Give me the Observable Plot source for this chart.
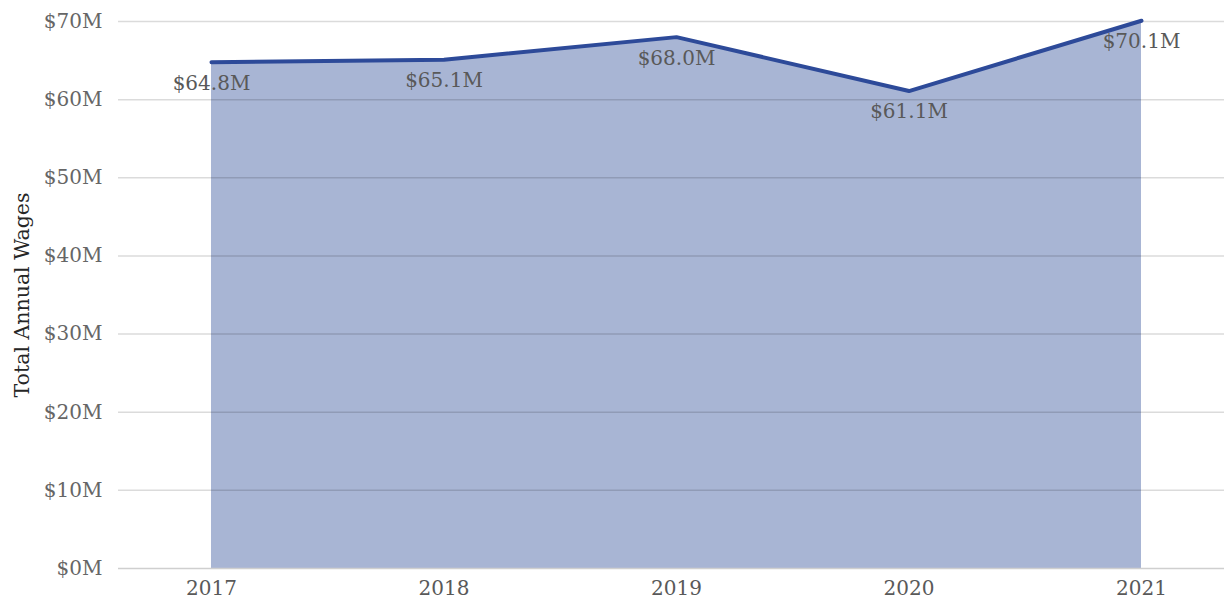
<!DOCTYPE html>
<html>
<head>
<meta charset="utf-8">
<script src="https://cdn.jsdelivr.net/npm/d3@7"></script>
<script src="https://cdn.jsdelivr.net/npm/@observablehq/plot@0.6"></script>
<style>
  html, body { margin: 0; padding: 0; background: #fff; }
  #chart svg { display: block; }
</style>
</head>
<body>
<div id="chart"></div>
<script>
const years = [2017, 2018, 2019, 2020, 2021];
const wages = [64.8, 65.1, 68.0, 61.1, 70.1]; // $ millions
const yTicks = [0, 10, 20, 30, 40, 50, 60, 70];
const yTitle = "Total Annual Wages";

const data = years.map((y, i) => ({year: y, value: wages[i], label: `$${wages[i].toFixed(1)}M`}));

const font = "'DejaVu Serif', 'Liberation Serif', serif";

const chart = Plot.plot({
  width: 1224,
  height: 603,
  marginLeft: 118,
  marginRight: 0,
  marginTop: 21,
  marginBottom: 35,
  style: {fontFamily: font, background: "#fff"},
  x: {domain: [2016.6, 2021.357]},
  y: {domain: [0, 70]},
  marks: [
    Plot.areaY(data, {x: "year", y: "value", fill: "#a8b5d4"}),
    Plot.gridY(yTicks.filter(d => d > 0), {stroke: "#000", strokeOpacity: 0.14, strokeWidth: 1.5}),
    Plot.ruleY([0], {stroke: "#cfcfcf", strokeWidth: 1.5}),
    Plot.lineY(data, {x: "year", y: "value", stroke: "#2d4a99", strokeWidth: 4}),
    Plot.text(data, {x: "year", y: "value", text: "label", dy: 21, fontSize: 20, fill: "#595959"}),
    Plot.axisY({ticks: yTicks, tickFormat: d => `$${d}M`, tickSize: 0, tickPadding: 16, fontSize: 20, fill: "#666", label: null}),
    Plot.axisX({ticks: years, tickFormat: d => String(d), tickSize: 0, tickPadding: 12, fontSize: 20, fill: "#595959", label: null}),
    Plot.text([yTitle], {frameAnchor: "left", textAnchor: "middle", rotate: -90, dx: -96, fontSize: 20.5, fill: "#262626"})
  ]
});
document.getElementById("chart").appendChild(chart);
</script>
</body>
</html>
